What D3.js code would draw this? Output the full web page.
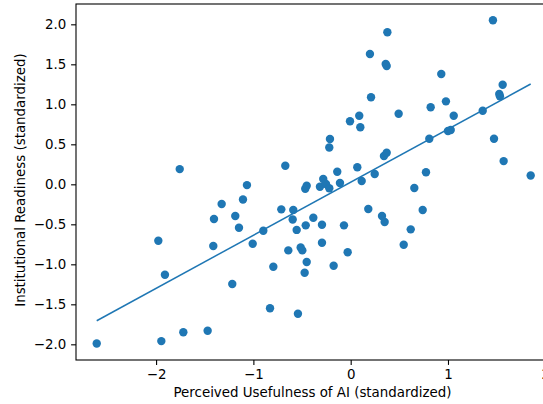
<!DOCTYPE html>
<html>
<head>
<meta charset="utf-8">
<script src="https://cdn.jsdelivr.net/npm/d3@7"></script>
<style>
  body { margin: 0; background: #fff; }
  text { font-family: "DejaVu Sans", sans-serif; }
</style>
</head>
<body>
<script>
var width = 543,
    height = 404,
    axLeft = 76, axRight = 552, axTop = 4, axBottom = 360,
    fontSize = '13.4px';

// perceived usefulness (x) and institutional readiness (y), standardized
var usefulness = [-2.61, -1.946, -1.72, -1.47, -1.977, -1.909, -1.757, -1.217, -1.412, -1.405,
    -1.326, -1.186, -1.148, -1.107, -1.066, -1.007, -0.898, -0.795, -0.829, -0.672,
    -0.713, -0.59, -0.596, -0.555, -0.462, -0.384, -0.295, -0.295, -0.641, -0.514,
    -0.497, -0.452, -0.473, -0.175, -0.031, -0.069, -0.542, -0.467, -0.452, -0.282,
    -0.316, -0.254, -0.22, -0.11, -0.138, 0.068, 0.113, 0.247, 0.181, 0.322,
    0.349, 0.342, 0.37, -0.22, -0.213, 0.74, 0.617, 0.545, 0.808, 1.473,
    1.572, 1.85, 0.774, 0.654, 0.377, 0.198, 0.36, 0.37, 1.462, 0.931,
    1.562, 1.527, 1.534, 0.209, 0.979, 0.822, 0.493, 0.088, -0.007, 0.099,
    1.059, 1.357, 1.0, 1.028];
var readiness = [-1.99, -1.96, -1.85, -1.83, -0.705, -1.13, 0.19, -1.246, -0.771, -0.434,
    -0.246, -0.396, -0.542, -0.19, -0.01, -0.742, -0.58, -1.03, -1.55, 0.233,
    -0.313, -0.32, -0.44, -0.57, -0.513, -0.417, -0.505, -0.73, -0.826, -0.79,
    -0.826, -0.971, -1.105, -1.017, -0.85, -0.513, -1.617, -0.055, -0.017, 0.066,
    -0.03, 0.004, -0.05, 0.016, 0.158, 0.213, 0.041, 0.129, -0.309, -0.396,
    -0.471, 0.354, 0.395, 0.46, 0.566, -0.321, -0.563, -0.755, 0.57, 0.57,
    0.29, 0.11, 0.15, -0.046, 1.9, 1.629, 1.504, 1.479, 2.05, 1.379,
    1.245, 1.129, 1.10, 1.088, 1.037, 0.963, 0.883, 0.858, 0.788, 0.713,
    0.858, 0.92, 0.666, 0.679];

// fitted regression line (end points)
var fitX = [-2.61, 1.85],
    fitY = [-1.705, 1.254];

var xTicks = [-2, -1, 0, 1, 2],
    yTicks = [-2.0, -1.5, -1.0, -0.5, 0.0, 0.5, 1.0, 1.5, 2.0];

var x = d3.scaleLinear().domain([-2.823, 2.069]).range([axLeft, axRight]);
var y = d3.scaleLinear().domain([-2.196, 2.254]).range([axBottom, axTop]);

var svg = d3.select('body').append('svg')
    .attr('width', width)
    .attr('height', height);

var points = usefulness.map(function (d, i) { return { x: d, y: readiness[i] }; });

svg.append('g').selectAll('circle')
    .data(points)
    .enter()
    .append('circle')
    .attr('cx', function (d) { return x(d.x); })
    .attr('cy', function (d) { return y(d.y); })
    .attr('r', 4.2)
    .attr('fill', '#1f77b4');

svg.append('path')
    .datum(fitX.map(function (d, i) { return [d, fitY[i]]; }))
    .attr('d', d3.line().x(function (d) { return x(d[0]); }).y(function (d) { return y(d[1]); }))
    .attr('fill', 'none')
    .attr('stroke', '#1f77b4')
    .attr('stroke-width', 1.5);

// frame
svg.append('rect')
    .attr('x', axLeft).attr('y', axTop)
    .attr('width', axRight - axLeft).attr('height', axBottom - axTop)
    .attr('fill', 'none')
    .attr('stroke', '#000')
    .attr('stroke-width', 1.1);

var xAxis = svg.append('g')
    .attr('transform', 'translate(0,' + axBottom + ')')
    .call(d3.axisBottom(x).tickValues(xTicks).tickFormat(d3.format('d')).tickSize(4.9).tickPadding(4.9));

var yAxis = svg.append('g')
    .attr('transform', 'translate(' + axLeft + ',0)')
    .call(d3.axisLeft(y).tickValues(yTicks).tickFormat(d3.format('.1f')).tickSize(4.9).tickPadding(4.9));

[xAxis, yAxis].forEach(function (a) {
    a.select('.domain').remove();
    a.selectAll('line').attr('stroke', '#000').attr('stroke-width', 1.1);
    a.selectAll('text').attr('fill', '#000').style('font-size', fontSize).style('font-family', '"DejaVu Sans", sans-serif');
});

svg.append('text')
    .attr('x', 312.5)
    .attr('y', 397)
    .attr('text-anchor', 'middle')
    .style('font-size', fontSize)
    .text('Perceived Usefulness of AI (standardized)');

svg.append('text')
    .attr('transform', 'translate(25,180) rotate(-90)')
    .attr('text-anchor', 'middle')
    .style('font-size', fontSize)
    .text('Institutional Readiness (standardized)');
</script>
</body>
</html>
